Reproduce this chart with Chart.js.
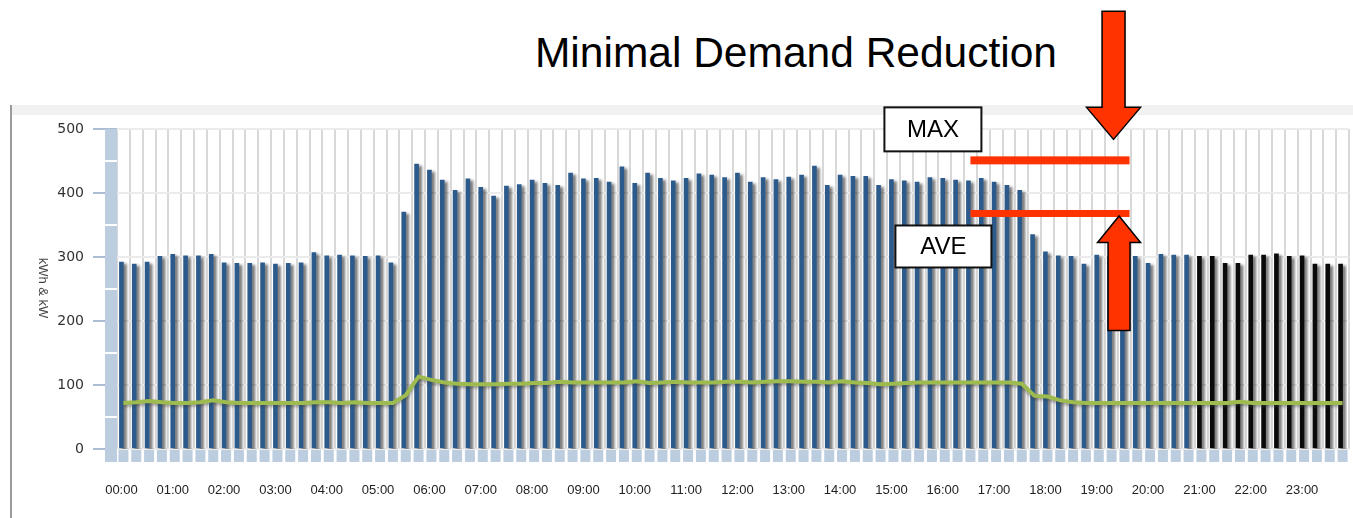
<!DOCTYPE html>
<html>
<head>
<meta charset="utf-8">
<script src="https://cdn.jsdelivr.net/npm/chart.js@4.4.1/dist/chart.umd.min.js"></script>
<style>
  html, body { margin: 0; padding: 0; background: #fff; }
  #wrap { position: relative; width: 1353px; height: 518px; overflow: hidden; }
  .frame-left { position: absolute; left: 10px; top: 105px; width: 2px; height: 413px; background: #9c9c9c; }
  .frame-top { position: absolute; left: 12px; top: 105px; width: 1341px; height: 10px; background: #f1f1f1; }
  .title { position: absolute; left: 446px; width: 700px; top: 32px; line-height: 42px; text-align: center;
           font-family: "Liberation Sans", Arial, sans-serif; font-size: 42.5px; color: #000; }
  #chart { position: absolute; left: 0; top: 0; }
</style>
</head>
<body>
<div id="wrap">
  <div class="frame-left"></div>
  <div class="frame-top"></div>
  <div class="title">Minimal Demand Reduction</div>
  <canvas id="chart" width="1353" height="518"></canvas>
</div>
<script>

// Data (15 minute intervals)

const times = [];
for (let h = 0; h < 24; h++) {
    for (let m = 0; m < 60; m += 15) {
        times.push(String(h).padStart(2, "0") + ":" + String(m).padStart(2, "0"));
    }
}

const demand = [
    292, 289, 292, 301, 304, 302, 302, 304, 291, 290, 290, 291, 289, 290, 291, 307,
    302, 303, 302, 301, 302, 291, 370, 445, 436, 420, 404, 422, 409, 395, 411, 413,
    420, 415, 412, 431, 422, 423, 417, 441, 415, 431, 423, 419, 423, 430, 428, 424,
    431, 417, 424, 421, 425, 428, 442, 412, 428, 426, 426, 412, 421, 419, 417, 424,
    423, 420, 419, 423, 417, 412, 404, 335, 308, 302, 301, 289, 303, 300, 295, 301,
    290, 304, 303, 303, 301, 301, 290, 290, 303, 303, 305, 301, 302, 289, 289, 289
]

const usage = [
    72, 73, 75, 73, 72, 72, 73, 76, 73, 72, 72, 72, 72, 72, 72, 73,
    73, 72, 73, 72, 72, 72, 84, 113, 108, 104, 102, 101, 101, 101, 102, 102,
    103, 103, 105, 104, 104, 104, 104, 104, 106, 103, 104, 105, 104, 104, 104, 105,
    105, 104, 105, 106, 106, 105, 105, 104, 106, 104, 103, 101, 102, 103, 104, 104,
    104, 104, 104, 104, 104, 104, 102, 83, 82, 76, 73, 72, 72, 72, 72, 72,
    72, 72, 72, 72, 72, 72, 72, 74, 72, 72, 72, 72, 72, 72, 72, 72
]

const yTicks = [0, 100, 200, 300, 400, 500];

const forecastStart = 84;   // black bars from 21:00
const maxDemand = 451;
const aveDemand = 368;
const markFrom = 66;        // category index where the red marks start
const markTo = 78.4;

// Drawing helpers

function drawArrow(ctx, cx, tipY, baseY, endY, headHalf, shaftHalf) {
    ctx.beginPath();
    ctx.moveTo(cx, tipY);
    ctx.lineTo(cx + headHalf, baseY);
    ctx.lineTo(cx + shaftHalf, baseY);
    ctx.lineTo(cx + shaftHalf, endY);
    ctx.lineTo(cx - shaftHalf, endY);
    ctx.lineTo(cx - shaftHalf, baseY);
    ctx.lineTo(cx - headHalf, baseY);
    ctx.closePath();
    ctx.fillStyle = "#ff3300";
    ctx.fill();
    ctx.lineWidth = 1.5;
    ctx.strokeStyle = "#000";
    ctx.stroke();
}

function drawBox(ctx, left, top, w, h, text) {
    ctx.fillStyle = "#fff";
    ctx.fillRect(left, top, w, h);
    ctx.lineWidth = 2;
    ctx.strokeStyle = "#111";
    ctx.strokeRect(left, top, w, h);
    ctx.fillStyle = "#000";
    ctx.font = '24px "Liberation Sans", Arial, sans-serif';
    ctx.textAlign = "center";
    ctx.textBaseline = "middle";
    ctx.fillText(text, left + w / 2, top + h / 2 + 1);
}

const decor = {
    id: "decor",
    beforeDatasetsDraw(chart) {
        const { ctx, chartArea: a, scales: { x, y } } = chart;
        const zero = y.getPixelForValue(0);
        ctx.save();
        // side wall
        ctx.fillStyle = "#bccde0";
        ctx.fillRect(a.left - 12, a.top, 12, zero + 13 - a.top);
        ctx.strokeStyle = "#ffffff";
        ctx.lineWidth = 2;
        for (let v = 50; v < 500; v += 100) {
            const py = y.getPixelForValue(v);
            ctx.beginPath();
            ctx.moveTo(a.left - 12, py);
            ctx.lineTo(a.left, py);
            ctx.stroke();
        }
        // floor tiles
        ctx.fillStyle = "#bccde0";
        times.forEach((t, i) => {
            const cx = x.getPixelForValue(i);
            ctx.fillRect(cx - 5, zero + 1, 10, 12);
        });
        ctx.restore();
    },
    beforeDatasetDraw(chart, args) {
        const ctx = chart.ctx;
        ctx.save();
        if (args.meta.type === "bar") {
            ctx.translate(-2, 0);
            ctx.shadowColor = "rgba(0,0,0,0.55)";
            ctx.shadowOffsetX = 3;
            ctx.shadowOffsetY = 2;
            ctx.shadowBlur = 3;
        } else {
            ctx.shadowColor = "rgba(60,60,60,0.45)";
            ctx.shadowOffsetY = 2;
            ctx.shadowBlur = 3;
        }
    },
    afterDatasetDraw(chart) {
        chart.ctx.restore();
    },
    afterDraw(chart) {
        const { ctx, scales: { x, y } } = chart;
        const x0 = x.getPixelForValue(markFrom);
        const x1 = x.getPixelForValue(markTo);
        const yMax = y.getPixelForValue(maxDemand);
        const yAve = y.getPixelForValue(aveDemand);
        ctx.save();

        // y axis title
        ctx.fillStyle = "#444";
        ctx.font = '13px "Liberation Sans", Arial, sans-serif';
        ctx.textAlign = "center";
        ctx.textBaseline = "middle";
        ctx.translate(43, y.getPixelForValue(250) - 1);
        ctx.rotate(Math.PI / 2);
        ctx.fillText("kWh & kW", 0, 0);
        ctx.setTransform(1, 0, 0, 1, 0, 0);

        // red marks
        ctx.fillStyle = "#ff3300";
        ctx.fillRect(x0, yMax - 4, x1 - x0, 8);
        ctx.fillRect(x0, yAve - 3.5, x1 - x0, 7);

        drawBox(ctx, x0 - 86, yMax - 53, 97, 44, "MAX");
        drawBox(ctx, x0 - 75, yAve + 12, 96, 42, "AVE");

        drawArrow(ctx, x1 - 16, yMax - 21, yMax - 53, yMax - 149, 27, 11.5);
        drawArrow(ctx, x1 - 10.5, yAve + 2.5, yAve + 29, yAve + 117, 21.5, 11);
        ctx.restore();
    }
};

// Chart

const chart = document.querySelector("#chart").getContext("2d");

new Chart(chart, {
    type: "bar",
    data: {
        labels: times,
        datasets: [
            {
                type: "line",
                label: "kW",
                data: usage,
                borderColor: "#9dbb4e",
                borderWidth: 4,
                pointRadius: 0,
                tension: 0,
                order: 0
            },
            {
                label: "kWh",
                data: demand,
                backgroundColor: (c) => c.dataIndex >= forecastStart ? "#0a0a0a" : "#2c5b8b",
                barThickness: 4,
                order: 1
            }
        ]
    },
    options: {
        responsive: false,
        animation: false,
        layout: { padding: { top: 129, right: 4, bottom: 0, left: 0 } },
        plugins: {
            legend: { display: false },
            tooltip: { enabled: false }
        },
        scales: {
            x: {
                afterFit: (s) => { s.height = 69; s.paddingLeft = 0; s.paddingRight = 0; },
                border: { display: false },
                grid: { color: "#d8d8d8", lineWidth: 2, drawTicks: false, offset: true },
                ticks: {
                    autoSkip: false,
                    maxRotation: 0,
                    padding: 34,
                    labelOffset: -2,
                    color: "#222",
                    font: { family: '"Liberation Sans", Arial, sans-serif', size: 13 },
                    callback: (v, i) => i % 4 === 0 ? times[i] : ""
                }
            },
            y: {
                min: 0,
                max: 500,
                afterFit: (s) => { s.width = 117; },
                afterBuildTicks: (s) => { s.ticks = yTicks.map(v => ({ value: v })); },
                border: { display: false },
                grid: { color: "#ebebeb", lineWidth: 2, tickColor: "#aabdd2", tickLength: 24, tickWidth: 2 },
                ticks: {
                    padding: 9,
                    color: "#333",
                    font: { family: '"DejaVu Sans", Verdana, sans-serif', size: 14 }
                }
            }
        }
    },
    plugins: [decor]
})

</script>
</body>
</html>
